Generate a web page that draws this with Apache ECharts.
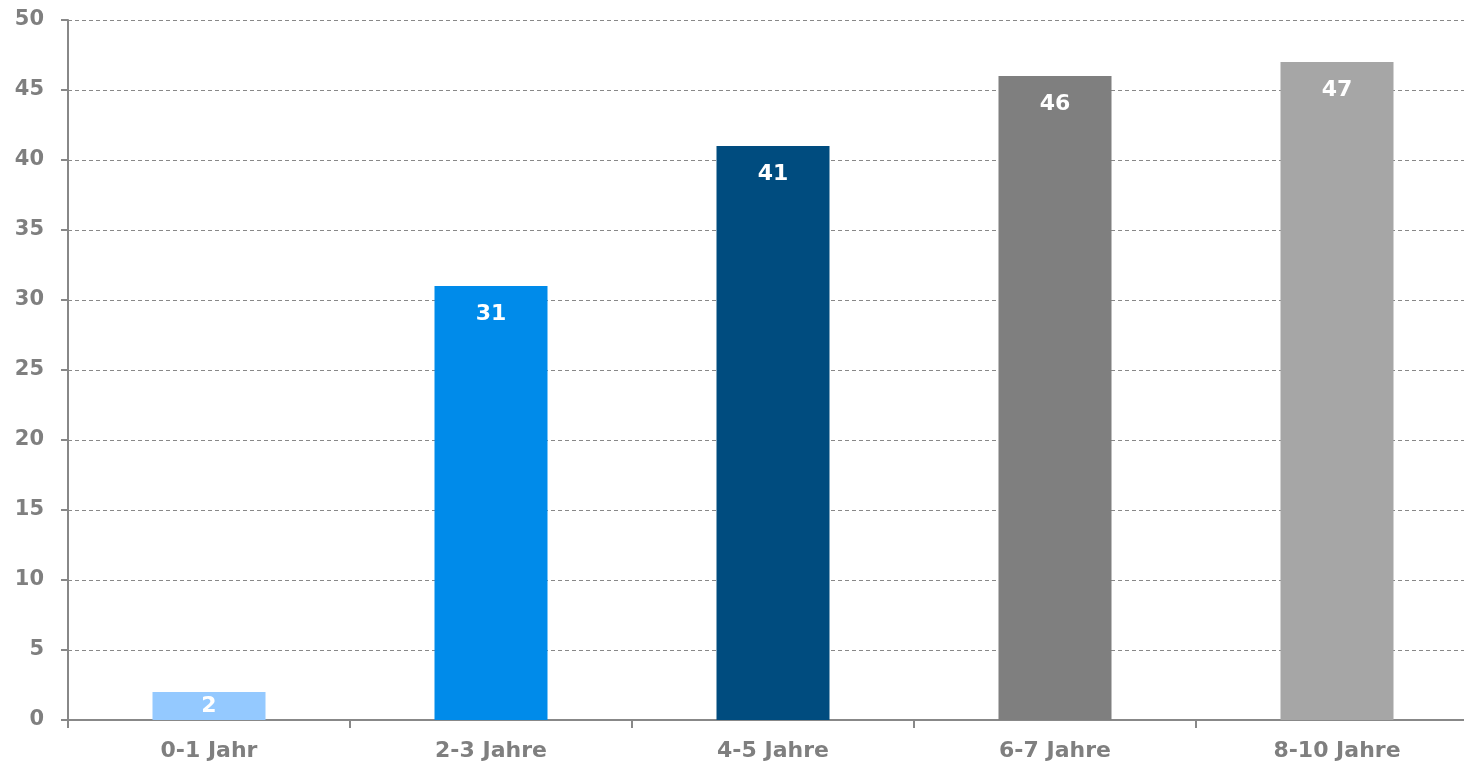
<!DOCTYPE html>
<html>
<head>
<meta charset="utf-8">
<script src="https://cdn.jsdelivr.net/npm/echarts@6/dist/echarts.min.js"></script>
<style>
html,body{margin:0;padding:0;background:#fff;overflow:hidden;width:1464px;height:765px;}
#chart{width:1478px;height:765px;}
</style>
</head>
<body>
<div id="chart"></div>
<script>
const categories = ['0-1 Jahr', '2-3 Jahre', '4-5 Jahre', '6-7 Jahre', '8-10 Jahre'];
const values = [2, 31, 41, 46, 47];
const barColors = ['#94C9FF', '#008BEA', '#004C7F', '#7F7F7F', '#A6A6A6'];
const yTicks = { min: 0, max: 50, interval: 5 };

const font = 'DejaVu Sans';
const chart = echarts.init(document.getElementById('chart'));
chart.setOption({
  animation: false,
  grid: { left: 68, right: 0, top: 20, bottom: 45, containLabel: false },
  xAxis: {
    type: 'category',
    data: categories,
    axisLine: { lineStyle: { color: '#888888', width: 2 } },
    axisTick: { show: true, length: 8, lineStyle: { color: '#888888', width: 2 } },
    axisLabel: { color: '#7F7F7F', fontFamily: font, fontWeight: 'bold', fontSize: 22, margin: 20 }
  },
  yAxis: {
    type: 'value',
    min: yTicks.min, max: yTicks.max, interval: yTicks.interval,
    axisLine: { show: true, lineStyle: { color: '#888888', width: 2 } },
    axisTick: { show: true, length: 7, lineStyle: { color: '#888888', width: 2 } },
    axisLabel: { color: '#7F7F7F', fontFamily: font, fontWeight: 'bold', fontSize: 21, margin: 24 },
    splitLine: { show: true, lineStyle: { color: '#888888', width: 1, type: [4, 3] } }
  },
  series: [{
    type: 'bar',
    barWidth: 113,
    data: values.map((v, i) => ({
      value: v,
      itemStyle: { color: barColors[i] },
      label: i === 0 ? { position: 'inside' } : undefined
    })),
    label: {
      show: true,
      position: 'insideTop',
      distance: 17,
      color: '#FFFFFF',
      fontFamily: font,
      fontWeight: 'bold',
      fontSize: 22
    }
  }]
});
</script>
</body>
</html>
